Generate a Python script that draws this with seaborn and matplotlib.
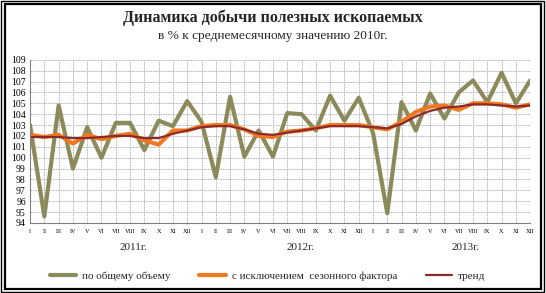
import matplotlib
matplotlib.use("Agg")
import matplotlib.pyplot as plt
import seaborn as sns
import pandas as pd
import numpy as np
from matplotlib.patches import Rectangle

sns.set_theme(style="white")
plt.rcParams['font.family'] = ['Liberation Serif', 'DejaVu Serif']

months = ["I", "II", "III", "IV", "V", "VI", "VII", "VIII", "IX", "X", "XI", "XII"]
tick_labels = months * 3
years = ["2011г.", "2012г.", "2013г."]

total = [103.0, 94.6, 104.8, 99.0, 102.8, 100.0, 103.2, 103.2, 100.7, 103.4, 102.9, 105.2,
         103.3, 98.2, 105.6, 100.1, 102.5, 100.1, 104.1, 104.0, 102.5, 105.7, 103.4, 105.5,
         102.3, 94.9, 105.1, 102.5, 105.9, 103.6, 106.0, 107.1, 105.1, 107.8, 105.0, 107.1]
seasonal = [102.1, 101.9, 102.1, 101.3, 102.1, 101.7, 102.0, 102.2, 101.6, 101.2, 102.5, 102.5,
            102.9, 103.0, 103.0, 102.6, 102.0, 101.9, 102.4, 102.5, 102.7, 103.0, 103.0, 103.0,
            102.8, 102.6, 103.3, 104.2, 104.7, 104.8, 104.4, 105.0, 105.0, 104.9, 104.6, 104.9]
trend = [101.9, 101.9, 101.9, 101.8, 101.8, 101.9, 102.0, 102.0, 101.8, 101.8, 102.2, 102.5,
         102.8, 102.9, 102.9, 102.6, 102.2, 102.1, 102.3, 102.5, 102.7, 102.9, 102.9, 102.9,
         102.8, 102.7, 103.1, 103.8, 104.3, 104.6, 104.7, 104.9, 104.9, 104.8, 104.7, 104.8]

names = ["по общему объему", "с исключением  сезонного фактора", "тренд"]
colors = ["#8c8a5a", "#f07820", "#8b2a2a"]
widths = [3.0, 3.0, 1.6]

x = np.arange(len(total))
df = pd.concat([
    pd.DataFrame({"x": x, "v": total, "s": names[0]}),
    pd.DataFrame({"x": x, "v": seasonal, "s": names[1]}),
    pd.DataFrame({"x": x, "v": trend, "s": names[2]}),
])

fig = plt.figure(figsize=(5.46, 2.93), dpi=100)
ax = fig.add_axes([0.055, 0.239, 0.916, 0.557])

for name, c, w in zip(names, colors, widths):
    sub = df[df.s == name]
    sns.lineplot(data=sub, x="x", y="v", ax=ax, color=c, linewidth=w, label=name,
                 legend=False)

ax.set_xlim(0, 35)
ax.set_ylim(94, 109)
ax.set_yticks(range(94, 110))
ax.set_yticklabels([str(v) for v in range(94, 110)], fontsize=7)
ax.set_xticks(x)
ax.set_xticklabels(tick_labels, fontsize=4.5)
ax.set_xlabel("")
ax.set_ylabel("")
ax.grid(True, color="#b0b0b0", linestyle=(0, (2, 1)), linewidth=0.6)
ax.tick_params(axis="both", length=2, pad=1, colors="black", width=0.6)
ax.tick_params(axis="x", pad=2)
for sp in ["top", "right"]:
    ax.spines[sp].set_visible(False)
for sp in ["left", "bottom"]:
    ax.spines[sp].set_color("#808080")
    ax.spines[sp].set_linewidth(0.8)

# Titles
fig.text(0.5, 0.94, "Динамика добычи полезных ископаемых", ha="center", va="center",
         fontsize=11.5, fontweight="bold")
fig.text(0.5, 0.877, "в % к среднемесячному значению 2010г.", ha="center", va="center",
         fontsize=9.6)

# Year labels
for yr, xf in zip(years, [0.245, 0.55, 0.852]):
    fig.text(xf, 0.155, yr, ha="center", va="center", fontsize=8)

# Legend
handles, labels = ax.get_legend_handles_labels()
fig.legend(handles, labels, loc="center", bbox_to_anchor=(0.49, 0.058), ncol=3,
           frameon=False, fontsize=8, handlelength=2.4, columnspacing=2.6,
           handletextpad=0.5)

# Double border
fig.patches.append(Rectangle((0.002, 0.003), 0.995, 0.993, transform=fig.transFigure,
                             fill=False, edgecolor="black", linewidth=1.0))
fig.patches.append(Rectangle((0.009, 0.014), 0.982, 0.972, transform=fig.transFigure,
                             fill=False, edgecolor="black", linewidth=1.6))

fig.savefig("out.png", dpi=100)
